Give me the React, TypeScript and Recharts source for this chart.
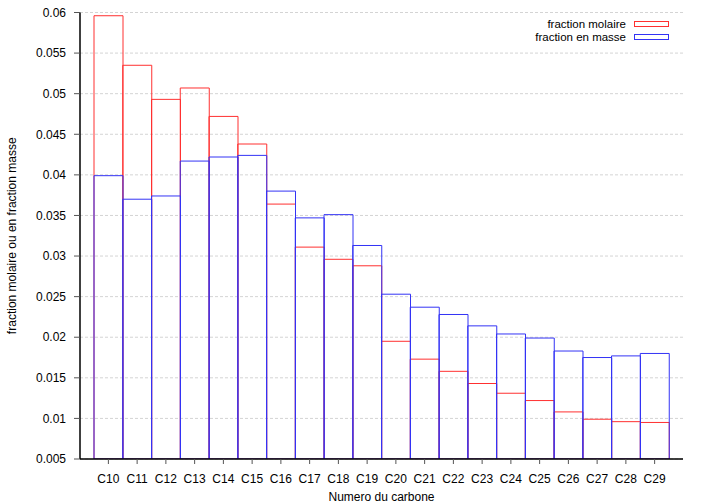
import { BarChart, Bar, XAxis, YAxis, CartesianGrid } from "recharts";

const categories = [
  "C10", "C11", "C12", "C13", "C14", "C15", "C16", "C17", "C18", "C19",
  "C20", "C21", "C22", "C23", "C24", "C25", "C26", "C27", "C28", "C29",
];
const fractionMolaire = [
  0.0596, 0.0535, 0.0493, 0.0507, 0.0472, 0.0438, 0.0364, 0.0311, 0.0296, 0.0288,
  0.0195, 0.0173, 0.0158, 0.0143, 0.0131, 0.0122, 0.0108, 0.0099, 0.0096, 0.0095,
];
const fractionMasse = [
  0.0399, 0.037, 0.0374, 0.0417, 0.0422, 0.0424, 0.038, 0.0347, 0.0351, 0.0313,
  0.0253, 0.0237, 0.0228, 0.0214, 0.0204, 0.0199, 0.0183, 0.0175, 0.0177, 0.018,
];
const yTicks = [0.005, 0.01, 0.015, 0.02, 0.025, 0.03, 0.035, 0.04, 0.045, 0.05, 0.055, 0.06];

const RED = "#ff3030";
const BLUE = "#3333f5";
const FONT = '"Liberation Sans", Arial, sans-serif';

const data = categories.map((name, i) => ({
  name,
  molaire: fractionMolaire[i],
  masse: fractionMasse[i],
}));

const legendItems = [
  { label: "fraction molaire", color: RED },
  { label: "fraction en masse", color: BLUE },
];

export default function App() {
  return (
    <div style={{ position: "relative", width: 705, height: 504, fontFamily: FONT }}>
      <style>{`body{margin:0}`}</style>
      <BarChart
        width={705}
        height={504}
        data={data}
        margin={{ top: 12.5, right: 22, bottom: 0, left: 0 }}
        barCategoryGap={0}
        barGap={0}
      >
        <CartesianGrid
          yAxisId="left"
          xAxisId="a"
          vertical={false}
          stroke="#d4d4d4"
          strokeDasharray="3 2"
        />
        <XAxis
          xAxisId="a"
          dataKey="name"
          interval={0}
          padding={{ left: 14, right: 14 }}
          height={45}
          tickSize={5}
          tickMargin={10}
          tickLine={{ stroke: "#555" }}
          axisLine={{ stroke: "#000", strokeWidth: 1.5 }}
          tick={{ fill: "#000", fontSize: 12, fontFamily: FONT }}
          label={{
            value: "Numero du carbone",
            position: "insideBottom",
            offset: 3,
            fill: "#000",
            fontSize: 12,
            fontFamily: FONT,
          }}
        />
        <XAxis xAxisId="b" dataKey="name" hide padding={{ left: 14, right: 14 }} />
        <XAxis
          xAxisId="top"
          dataKey="name"
          orientation="top"
          height={0}
          tick={false}
          tickLine={false}
          axisLine={{ stroke: "#000", strokeWidth: 1.5 }}
        />
        <YAxis
          yAxisId="left"
          width={80}
          type="number"
          domain={[0.005, 0.06]}
          ticks={yTicks}
          allowDataOverflow
          tickSize={6}
          tickMargin={8}
          tickLine={{ stroke: "#555" }}
          axisLine={{ stroke: "#000", strokeWidth: 1.5 }}
          tick={{ fill: "#000", fontSize: 12, fontFamily: FONT }}
          tickFormatter={(v: number) => String(Number(v.toFixed(3)))}
          label={{
            value: "fraction molaire ou en fraction masse",
            angle: -90,
            position: "center",
            dx: -28,
            fill: "#000",
            fontSize: 12,
            fontFamily: FONT,
          }}
        />
        <YAxis
          yAxisId="right"
          orientation="right"
          width={0}
          domain={[0.005, 0.06]}
          tick={false}
          tickLine={false}
          axisLine={{ stroke: "#000", strokeWidth: 1.5 }}
        />
        <Bar
          xAxisId="a"
          yAxisId="left"
          dataKey="molaire"
          fill="none"
          stroke={RED}
          strokeWidth={1}
          isAnimationActive={false}
        />
        <Bar
          xAxisId="b"
          yAxisId="left"
          dataKey="masse"
          fill="none"
          stroke={BLUE}
          strokeWidth={1}
          isAnimationActive={false}
        />
      </BarChart>
      <div style={{ position: "absolute", top: 17.5, right: 36 }}>
        {legendItems.map((it) => (
          <div
            key={it.label}
            style={{
              display: "flex",
              alignItems: "center",
              justifyContent: "flex-end",
              height: 13,
              fontSize: 11.5,
              color: "#000",
              whiteSpace: "nowrap",
            }}
          >
            <span style={{ display: "block", height: 13, lineHeight: "13px", marginRight: 8 }}>
              {it.label}
            </span>
            <span
              style={{
                display: "block",
                boxSizing: "border-box",
                width: 35,
                height: 6,
                border: `1px solid ${it.color}`,
              }}
            />
          </div>
        ))}
      </div>
    </div>
  );
}
